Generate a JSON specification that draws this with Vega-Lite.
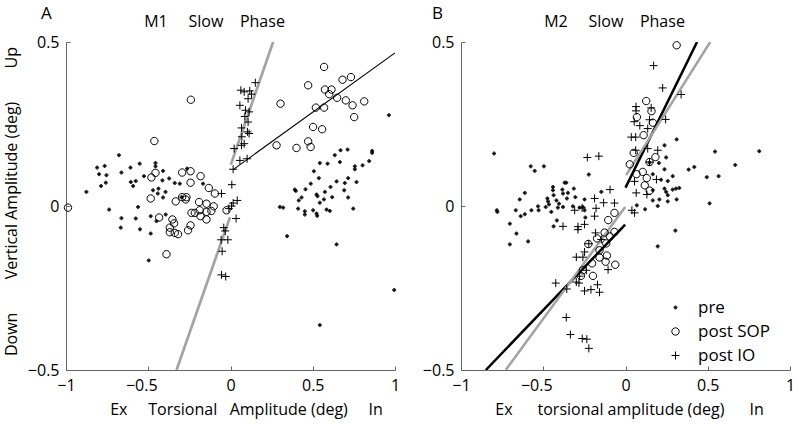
{
"$schema": "https://vega.github.io/schema/vega-lite/v6.json",
"padding": {"left": 3, "top": 5, "right": 5, "bottom": 5},
"datasets": {
"fits": [
{"panel":"A","fit":"post IO","seg":1,"x":0.002,"y":0.126},{"panel":"A","fit":"post IO","seg":1,"x":0.259,"y":0.5},
{"panel":"A","fit":"post IO","seg":2,"x":-0.003,"y":-0.034},{"panel":"A","fit":"post IO","seg":2,"x":-0.328,"y":-0.5},
{"panel":"A","fit":"post SOP","seg":3,"x":0.016,"y":0.111},{"panel":"A","fit":"post SOP","seg":3,"x":1.0,"y":0.467},
{"panel":"B","fit":"post SOP","seg":1,"x":0.0,"y":0.056},{"panel":"B","fit":"post SOP","seg":1,"x":0.435,"y":0.5},
{"panel":"B","fit":"post SOP","seg":2,"x":-0.002,"y":-0.057},{"panel":"B","fit":"post SOP","seg":2,"x":-0.849,"y":-0.5},
{"panel":"B","fit":"post IO","seg":3,"x":0.004,"y":0.094},{"panel":"B","fit":"post IO","seg":3,"x":0.515,"y":0.5},
{"panel":"B","fit":"post IO","seg":4,"x":-0.002,"y":-0.003},{"panel":"B","fit":"post IO","seg":4,"x":-0.728,"y":-0.5}
],
"pts": [
{"panel":"A","type":"pre","x":-0.678,"y":0.155},{"panel":"A","type":"pre","x":-0.811,"y":0.117},{"panel":"A","type":"pre","x":-0.765,"y":0.122},{"panel":"A","type":"pre","x":-0.799,"y":0.097},{"panel":"A","type":"pre","x":-0.754,"y":0.094},{"panel":"A","type":"pre","x":-0.758,"y":0.071},{"panel":"A","type":"pre","x":-0.787,"y":0.061},{"panel":"A","type":"pre","x":-0.876,"y":0.043},{"panel":"A","type":"pre","x":-0.663,"y":0.102},{"panel":"A","type":"pre","x":-0.608,"y":0.117},{"panel":"A","type":"pre","x":-0.552,"y":0.129},{"panel":"A","type":"pre","x":-0.606,"y":0.073},{"panel":"A","type":"pre","x":-0.576,"y":0.076},{"panel":"A","type":"pre","x":-0.592,"y":0.061},{"panel":"A","type":"pre","x":-0.526,"y":0.091},{"panel":"A","type":"pre","x":-0.456,"y":0.131},{"panel":"A","type":"pre","x":-0.456,"y":0.121},{"panel":"A","type":"pre","x":-0.41,"y":0.107},{"panel":"A","type":"pre","x":-0.414,"y":0.078},{"panel":"A","type":"pre","x":-0.373,"y":0.084},{"panel":"A","type":"pre","x":-0.339,"y":0.07},{"panel":"A","type":"pre","x":-0.308,"y":0.068},{"panel":"A","type":"pre","x":-0.471,"y":0.048},{"panel":"A","type":"pre","x":-0.438,"y":0.053},{"panel":"A","type":"pre","x":-0.395,"y":0.043},{"panel":"A","type":"pre","x":-0.442,"y":0.038},{"panel":"A","type":"pre","x":-0.41,"y":0.026},{"panel":"A","type":"pre","x":-0.264,"y":0.114},{"panel":"A","type":"pre","x":-0.167,"y":0.068},{"panel":"A","type":"pre","x":-0.738,"y":-0.011},{"panel":"A","type":"pre","x":-0.562,"y":-0.003},{"panel":"A","type":"pre","x":-0.663,"y":-0.037},{"panel":"A","type":"pre","x":-0.576,"y":-0.038},{"panel":"A","type":"pre","x":-0.485,"y":-0.031},{"panel":"A","type":"pre","x":-0.45,"y":-0.046},{"panel":"A","type":"pre","x":-0.394,"y":-0.026},{"panel":"A","type":"pre","x":-0.667,"y":-0.066},{"panel":"A","type":"pre","x":-0.55,"y":-0.071},{"panel":"A","type":"pre","x":-0.485,"y":-0.084},{"panel":"A","type":"pre","x":-0.497,"y":-0.166},{"panel":"A","type":"pre","x":-0.298,"y":0.027},
{"panel":"A","type":"pre","x":0.634,"y":0.155},{"panel":"A","type":"pre","x":0.669,"y":0.17},{"panel":"A","type":"pre","x":0.712,"y":0.172},{"panel":"A","type":"pre","x":0.861,"y":0.168},{"panel":"A","type":"pre","x":0.861,"y":0.162},{"panel":"A","type":"pre","x":0.543,"y":0.131},{"panel":"A","type":"pre","x":0.59,"y":0.129},{"panel":"A","type":"pre","x":0.665,"y":0.134},{"panel":"A","type":"pre","x":0.756,"y":0.121},{"panel":"A","type":"pre","x":0.756,"y":0.112},{"panel":"A","type":"pre","x":0.803,"y":0.124},{"panel":"A","type":"pre","x":0.843,"y":0.137},{"panel":"A","type":"pre","x":0.507,"y":0.106},{"panel":"A","type":"pre","x":0.537,"y":0.085},{"panel":"A","type":"pre","x":0.645,"y":0.075},{"panel":"A","type":"pre","x":0.695,"y":0.07},{"panel":"A","type":"pre","x":0.715,"y":0.085},{"panel":"A","type":"pre","x":0.766,"y":0.073},{"panel":"A","type":"pre","x":0.488,"y":0.068},{"panel":"A","type":"pre","x":0.608,"y":0.058},{"panel":"A","type":"pre","x":0.574,"y":0.043},{"panel":"A","type":"pre","x":0.523,"y":0.035},{"panel":"A","type":"pre","x":0.529,"y":0.03},{"panel":"A","type":"pre","x":0.456,"y":0.051},{"panel":"A","type":"pre","x":0.391,"y":0.05},{"panel":"A","type":"pre","x":0.397,"y":0.046},{"panel":"A","type":"pre","x":0.691,"y":0.048},{"panel":"A","type":"pre","x":0.618,"y":0.027},{"panel":"A","type":"pre","x":0.568,"y":0.02},{"panel":"A","type":"pre","x":0.543,"y":0.01},{"panel":"A","type":"pre","x":0.432,"y":0.026},{"panel":"A","type":"pre","x":0.415,"y":0.017},{"panel":"A","type":"pre","x":0.715,"y":0.026},{"panel":"A","type":"pre","x":0.3,"y":-0.003},{"panel":"A","type":"pre","x":0.32,"y":-0.005},{"panel":"A","type":"pre","x":0.411,"y":-0.008},{"panel":"A","type":"pre","x":0.452,"y":-0.016},{"panel":"A","type":"pre","x":0.452,"y":-0.026},{"panel":"A","type":"pre","x":0.502,"y":-0.013},{"panel":"A","type":"pre","x":0.523,"y":-0.023},{"panel":"A","type":"pre","x":0.527,"y":-0.03},{"panel":"A","type":"pre","x":0.584,"y":-0.011},{"panel":"A","type":"pre","x":0.604,"y":-0.015},{"panel":"A","type":"pre","x":0.746,"y":-0.008},{"panel":"A","type":"pre","x":0.344,"y":-0.092},{"panel":"A","type":"pre","x":0.645,"y":-0.117},{"panel":"A","type":"pre","x":0.963,"y":0.277},{"panel":"A","type":"pre","x":0.995,"y":-0.256},{"panel":"A","type":"pre","x":0.543,"y":-0.363},
{"panel":"A","type":"post SOP","x":-0.241,"y":0.324},{"panel":"A","type":"post SOP","x":-0.463,"y":0.198},{"panel":"A","type":"post SOP","x":-0.481,"y":0.087},{"panel":"A","type":"post SOP","x":-0.456,"y":0.101},{"panel":"A","type":"post SOP","x":-0.294,"y":0.102},{"panel":"A","type":"post SOP","x":-0.243,"y":0.106},{"panel":"A","type":"post SOP","x":-0.243,"y":0.071},{"panel":"A","type":"post SOP","x":-0.182,"y":0.091},{"panel":"A","type":"post SOP","x":-0.132,"y":0.055},{"panel":"A","type":"post SOP","x":-0.095,"y":0.038},{"panel":"A","type":"post SOP","x":-0.485,"y":0.023},{"panel":"A","type":"post SOP","x":-0.333,"y":0.014},{"panel":"A","type":"post SOP","x":-0.294,"y":0.027},{"panel":"A","type":"post SOP","x":-0.268,"y":0.027},{"panel":"A","type":"post SOP","x":-0.272,"y":0.02},{"panel":"A","type":"post SOP","x":-0.191,"y":0.012},{"panel":"A","type":"post SOP","x":-0.146,"y":0.007},{"panel":"A","type":"post SOP","x":-0.102,"y":-0.001},{"panel":"A","type":"post SOP","x":-0.237,"y":-0.021},{"panel":"A","type":"post SOP","x":-0.217,"y":-0.021},{"panel":"A","type":"post SOP","x":-0.187,"y":-0.013},{"panel":"A","type":"post SOP","x":-0.146,"y":-0.018},{"panel":"A","type":"post SOP","x":-0.116,"y":-0.015},{"panel":"A","type":"post SOP","x":-0.182,"y":-0.031},{"panel":"A","type":"post SOP","x":-0.146,"y":-0.041},{"panel":"A","type":"post SOP","x":-0.434,"y":-0.035},{"panel":"A","type":"post SOP","x":-0.353,"y":-0.041},{"panel":"A","type":"post SOP","x":-0.343,"y":-0.053},{"panel":"A","type":"post SOP","x":-0.369,"y":-0.066},{"panel":"A","type":"post SOP","x":-0.369,"y":-0.08},{"panel":"A","type":"post SOP","x":-0.339,"y":-0.082},{"panel":"A","type":"post SOP","x":-0.319,"y":-0.086},{"panel":"A","type":"post SOP","x":-0.243,"y":-0.059},{"panel":"A","type":"post SOP","x":-0.258,"y":-0.074},{"panel":"A","type":"post SOP","x":-0.389,"y":-0.147},{"panel":"A","type":"post SOP","x":-0.988,"y":-0.005},{"panel":"A","type":"post SOP","x":-0.024,"y":-0.013},
{"panel":"A","type":"post SOP","x":0.569,"y":0.424},{"panel":"A","type":"post SOP","x":0.681,"y":0.385},{"panel":"A","type":"post SOP","x":0.732,"y":0.393},{"panel":"A","type":"post SOP","x":0.472,"y":0.368},{"panel":"A","type":"post SOP","x":0.574,"y":0.355},{"panel":"A","type":"post SOP","x":0.614,"y":0.355},{"panel":"A","type":"post SOP","x":0.6,"y":0.341},{"panel":"A","type":"post SOP","x":0.648,"y":0.33},{"panel":"A","type":"post SOP","x":0.701,"y":0.322},{"panel":"A","type":"post SOP","x":0.813,"y":0.319},{"panel":"A","type":"post SOP","x":0.742,"y":0.307},{"panel":"A","type":"post SOP","x":0.304,"y":0.312},{"panel":"A","type":"post SOP","x":0.519,"y":0.3},{"panel":"A","type":"post SOP","x":0.569,"y":0.3},{"panel":"A","type":"post SOP","x":0.752,"y":0.271},{"panel":"A","type":"post SOP","x":0.502,"y":0.241},{"panel":"A","type":"post SOP","x":0.557,"y":0.234},{"panel":"A","type":"post SOP","x":0.472,"y":0.197},{"panel":"A","type":"post SOP","x":0.487,"y":0.18},{"panel":"A","type":"post SOP","x":0.401,"y":0.177},{"panel":"A","type":"post SOP","x":0.28,"y":0.185},
{"panel":"A","type":"post IO","x":0.151,"y":0.376},{"panel":"A","type":"post IO","x":0.063,"y":0.353},{"panel":"A","type":"post IO","x":0.083,"y":0.348},{"panel":"A","type":"post IO","x":0.117,"y":0.351},{"panel":"A","type":"post IO","x":0.128,"y":0.341},{"panel":"A","type":"post IO","x":0.107,"y":0.327},{"panel":"A","type":"post IO","x":0.057,"y":0.307},{"panel":"A","type":"post IO","x":0.091,"y":0.292},{"panel":"A","type":"post IO","x":0.113,"y":0.287},{"panel":"A","type":"post IO","x":0.087,"y":0.273},{"panel":"A","type":"post IO","x":0.107,"y":0.256},{"panel":"A","type":"post IO","x":0.067,"y":0.238},{"panel":"A","type":"post IO","x":0.103,"y":0.226},{"panel":"A","type":"post IO","x":0.113,"y":0.221},{"panel":"A","type":"post IO","x":0.069,"y":0.211},{"panel":"A","type":"post IO","x":0.067,"y":0.185},{"panel":"A","type":"post IO","x":0.083,"y":0.19},{"panel":"A","type":"post IO","x":0.022,"y":0.175},{"panel":"A","type":"post IO","x":0.057,"y":0.139},{"panel":"A","type":"post IO","x":0.101,"y":0.144},{"panel":"A","type":"post IO","x":0.016,"y":0.112},{"panel":"A","type":"post IO","x":0.008,"y":0.065},{"panel":"A","type":"post IO","x":-0.055,"y":0.038},{"panel":"A","type":"post IO","x":0.041,"y":0.017},{"panel":"A","type":"post IO","x":0.016,"y":0.009},{"panel":"A","type":"post IO","x":0.006,"y":0.0},{"panel":"A","type":"post IO","x":-0.01,"y":-0.008},{"panel":"A","type":"post IO","x":0.034,"y":-0.038},{"panel":"A","type":"post IO","x":-0.041,"y":-0.066},{"panel":"A","type":"post IO","x":-0.032,"y":-0.076},{"panel":"A","type":"post IO","x":-0.016,"y":-0.103},{"panel":"A","type":"post IO","x":-0.057,"y":-0.103},{"panel":"A","type":"post IO","x":-0.051,"y":-0.138},{"panel":"A","type":"post IO","x":-0.055,"y":-0.21},{"panel":"A","type":"post IO","x":-0.029,"y":-0.215},
{"panel":"B","type":"pre","x":-0.799,"y":0.16},{"panel":"B","type":"pre","x":-0.576,"y":0.121},{"panel":"B","type":"pre","x":-0.552,"y":0.107},{"panel":"B","type":"pre","x":-0.496,"y":0.121},{"panel":"B","type":"pre","x":-0.223,"y":0.096},{"panel":"B","type":"pre","x":-0.612,"y":0.04},{"panel":"B","type":"pre","x":-0.643,"y":0.02},{"panel":"B","type":"pre","x":-0.782,"y":-0.013},{"panel":"B","type":"pre","x":-0.779,"y":-0.018},{"panel":"B","type":"pre","x":-0.667,"y":-0.013},{"panel":"B","type":"pre","x":-0.637,"y":-0.031},{"panel":"B","type":"pre","x":-0.612,"y":-0.025},{"panel":"B","type":"pre","x":-0.572,"y":-0.013},{"panel":"B","type":"pre","x":-0.532,"y":-0.001},{"panel":"B","type":"pre","x":-0.528,"y":-0.013},{"panel":"B","type":"pre","x":-0.485,"y":-0.003},{"panel":"B","type":"pre","x":-0.475,"y":0.023},{"panel":"B","type":"pre","x":-0.471,"y":0.014},{"panel":"B","type":"pre","x":-0.465,"y":0.005},{"panel":"B","type":"pre","x":-0.441,"y":0.058},{"panel":"B","type":"pre","x":-0.441,"y":0.048},{"panel":"B","type":"pre","x":-0.437,"y":0.033},{"panel":"B","type":"pre","x":-0.451,"y":-0.018},{"panel":"B","type":"pre","x":-0.42,"y":0.017},{"panel":"B","type":"pre","x":-0.404,"y":0.007},{"panel":"B","type":"pre","x":-0.411,"y":-0.005},{"panel":"B","type":"pre","x":-0.384,"y":0.05},{"panel":"B","type":"pre","x":-0.38,"y":0.038},{"panel":"B","type":"pre","x":-0.37,"y":0.071},{"panel":"B","type":"pre","x":-0.36,"y":0.071},{"panel":"B","type":"pre","x":-0.35,"y":0.04},{"panel":"B","type":"pre","x":-0.356,"y":0.023},{"panel":"B","type":"pre","x":-0.38,"y":-0.003},{"panel":"B","type":"pre","x":-0.314,"y":0.053},{"panel":"B","type":"pre","x":-0.305,"y":0.027},{"panel":"B","type":"pre","x":-0.32,"y":-0.001},{"panel":"B","type":"pre","x":-0.279,"y":-0.005},{"panel":"B","type":"pre","x":-0.259,"y":-0.003},{"panel":"B","type":"pre","x":-0.249,"y":0.02},{"panel":"B","type":"pre","x":-0.244,"y":-0.035},{"panel":"B","type":"pre","x":-0.147,"y":0.043},{"panel":"B","type":"pre","x":-0.703,"y":-0.054},{"panel":"B","type":"pre","x":-0.417,"y":-0.044},{"panel":"B","type":"pre","x":-0.437,"y":-0.062},{"panel":"B","type":"pre","x":-0.663,"y":-0.084},{"panel":"B","type":"pre","x":-0.703,"y":-0.117},{"panel":"B","type":"pre","x":-0.592,"y":-0.108},{"panel":"B","type":"pre","x":-0.249,"y":-0.013},{"panel":"B","type":"pre","x":0.303,"y":-0.075},{"panel":"B","type":"pre","x":0.196,"y":-0.123},
{"panel":"B","type":"pre","x":0.311,"y":0.203},{"panel":"B","type":"pre","x":0.237,"y":0.185},{"panel":"B","type":"pre","x":0.544,"y":0.166},{"panel":"B","type":"pre","x":0.813,"y":0.167},{"panel":"B","type":"pre","x":0.667,"y":0.125},{"panel":"B","type":"pre","x":0.384,"y":0.111},{"panel":"B","type":"pre","x":0.418,"y":0.119},{"panel":"B","type":"pre","x":0.494,"y":0.088},{"panel":"B","type":"pre","x":0.566,"y":0.091},{"panel":"B","type":"pre","x":0.511,"y":0.008},{"panel":"B","type":"pre","x":0.247,"y":0.148},{"panel":"B","type":"pre","x":0.203,"y":0.131},{"panel":"B","type":"pre","x":0.237,"y":0.112},{"panel":"B","type":"pre","x":0.166,"y":0.097},{"panel":"B","type":"pre","x":0.216,"y":0.08},{"panel":"B","type":"pre","x":0.257,"y":0.076},{"panel":"B","type":"pre","x":0.287,"y":0.091},{"panel":"B","type":"pre","x":0.237,"y":0.053},{"panel":"B","type":"pre","x":0.247,"y":0.043},{"panel":"B","type":"pre","x":0.257,"y":0.033},{"panel":"B","type":"pre","x":0.287,"y":0.05},{"panel":"B","type":"pre","x":0.307,"y":0.053},{"panel":"B","type":"pre","x":0.327,"y":0.055},{"panel":"B","type":"pre","x":0.311,"y":0.02},{"panel":"B","type":"pre","x":0.257,"y":0.014},{"panel":"B","type":"pre","x":0.206,"y":0.02},{"panel":"B","type":"pre","x":0.166,"y":0.017},{"panel":"B","type":"pre","x":0.196,"y":0.0},{"panel":"B","type":"pre","x":0.119,"y":-0.01},{"panel":"B","type":"pre","x":0.069,"y":0.002},{"panel":"B","type":"pre","x":0.146,"y":0.132},{"panel":"B","type":"pre","x":0.166,"y":0.048},
{"panel":"B","type":"post SOP","x":0.311,"y":0.49},{"panel":"B","type":"post SOP","x":0.126,"y":0.32},{"panel":"B","type":"post SOP","x":0.158,"y":0.289},{"panel":"B","type":"post SOP","x":0.069,"y":0.271},{"panel":"B","type":"post SOP","x":0.166,"y":0.254},{"panel":"B","type":"post SOP","x":0.11,"y":0.216},{"panel":"B","type":"post SOP","x":0.05,"y":0.162},{"panel":"B","type":"post SOP","x":0.182,"y":0.149},{"panel":"B","type":"post SOP","x":0.026,"y":0.127},{"panel":"B","type":"post SOP","x":0.146,"y":0.134},{"panel":"B","type":"post SOP","x":0.105,"y":0.104},{"panel":"B","type":"post SOP","x":0.067,"y":0.097},{"panel":"B","type":"post SOP","x":0.129,"y":0.085},{"panel":"B","type":"post SOP","x":0.117,"y":0.063},{"panel":"B","type":"post SOP","x":0.147,"y":0.047},{"panel":"B","type":"post SOP","x":-0.067,"y":-0.021},{"panel":"B","type":"post SOP","x":-0.105,"y":-0.043},{"panel":"B","type":"post SOP","x":-0.127,"y":-0.081},{"panel":"B","type":"post SOP","x":-0.067,"y":-0.079},{"panel":"B","type":"post SOP","x":-0.095,"y":-0.093},{"panel":"B","type":"post SOP","x":-0.173,"y":-0.099},{"panel":"B","type":"post SOP","x":-0.226,"y":-0.116},{"panel":"B","type":"post SOP","x":-0.117,"y":-0.114},{"panel":"B","type":"post SOP","x":-0.158,"y":-0.135},{"panel":"B","type":"post SOP","x":-0.113,"y":-0.151},{"panel":"B","type":"post SOP","x":-0.158,"y":-0.157},{"panel":"B","type":"post SOP","x":-0.203,"y":-0.175},{"panel":"B","type":"post SOP","x":-0.121,"y":-0.17},{"panel":"B","type":"post SOP","x":-0.062,"y":-0.179},{"panel":"B","type":"post SOP","x":-0.271,"y":-0.213},{"panel":"B","type":"post SOP","x":-0.198,"y":-0.213},{"panel":"B","type":"post SOP","x":-0.259,"y":-0.196},
{"panel":"B","type":"post IO","x":0.171,"y":0.428},{"panel":"B","type":"post IO","x":0.226,"y":0.36},{"panel":"B","type":"post IO","x":0.338,"y":0.34},{"panel":"B","type":"post IO","x":0.064,"y":0.303},{"panel":"B","type":"post IO","x":0.064,"y":0.29},{"panel":"B","type":"post IO","x":0.156,"y":0.299},{"panel":"B","type":"post IO","x":0.053,"y":0.257},{"panel":"B","type":"post IO","x":0.087,"y":0.245},{"panel":"B","type":"post IO","x":0.135,"y":0.236},{"panel":"B","type":"post IO","x":0.146,"y":0.263},{"panel":"B","type":"post IO","x":0.244,"y":0.264},{"panel":"B","type":"post IO","x":0.035,"y":0.21},{"panel":"B","type":"post IO","x":0.062,"y":0.21},{"panel":"B","type":"post IO","x":0.135,"y":0.175},{"panel":"B","type":"post IO","x":0.196,"y":0.17},{"panel":"B","type":"post IO","x":0.062,"y":0.17},{"panel":"B","type":"post IO","x":0.146,"y":0.134},{"panel":"B","type":"post IO","x":0.055,"y":0.075},{"panel":"B","type":"post IO","x":0.188,"y":0.081},{"panel":"B","type":"post IO","x":0.065,"y":0.04},{"panel":"B","type":"post IO","x":0.13,"y":0.035},{"panel":"B","type":"post IO","x":-0.094,"y":0.05},{"panel":"B","type":"post IO","x":-0.232,"y":0.148},{"panel":"B","type":"post IO","x":-0.162,"y":0.152},{"panel":"B","type":"post IO","x":-0.188,"y":0.023},{"panel":"B","type":"post IO","x":-0.133,"y":0.01},{"panel":"B","type":"post IO","x":-0.067,"y":0.009},{"panel":"B","type":"post IO","x":-0.179,"y":-0.007},{"panel":"B","type":"post IO","x":0.039,"y":-0.013},{"panel":"B","type":"post IO","x":0.055,"y":-0.021},{"panel":"B","type":"post IO","x":-0.309,"y":-0.013},{"panel":"B","type":"post IO","x":-0.264,"y":-0.006},{"panel":"B","type":"post IO","x":-0.188,"y":-0.031},{"panel":"B","type":"post IO","x":-0.249,"y":-0.056},{"panel":"B","type":"post IO","x":-0.289,"y":-0.063},{"panel":"B","type":"post IO","x":-0.289,"y":-0.072},{"panel":"B","type":"post IO","x":-0.38,"y":-0.062},{"panel":"B","type":"post IO","x":-0.182,"y":-0.082},{"panel":"B","type":"post IO","x":-0.147,"y":-0.102},{"panel":"B","type":"post IO","x":-0.223,"y":-0.115},{"panel":"B","type":"post IO","x":-0.249,"y":-0.14},{"panel":"B","type":"post IO","x":-0.299,"y":-0.156},{"panel":"B","type":"post IO","x":-0.259,"y":-0.156},{"panel":"B","type":"post IO","x":-0.106,"y":-0.194},{"panel":"B","type":"post IO","x":-0.238,"y":-0.196},{"panel":"B","type":"post IO","x":-0.299,"y":-0.232},{"panel":"B","type":"post IO","x":-0.424,"y":-0.235},{"panel":"B","type":"post IO","x":-0.357,"y":-0.253},{"panel":"B","type":"post IO","x":-0.283,"y":-0.235},{"panel":"B","type":"post IO","x":-0.249,"y":-0.259},{"panel":"B","type":"post IO","x":-0.21,"y":-0.255},{"panel":"B","type":"post IO","x":-0.17,"y":-0.24},{"panel":"B","type":"post IO","x":-0.158,"y":-0.263},{"panel":"B","type":"post IO","x":-0.36,"y":-0.34},{"panel":"B","type":"post IO","x":-0.335,"y":-0.392},{"panel":"B","type":"post IO","x":-0.263,"y":-0.404},{"panel":"B","type":"post IO","x":-0.235,"y":-0.406},{"panel":"B","type":"post IO","x":-0.223,"y":-0.434},{"panel":"B","type":"post IO","x":-0.279,"y":-0.214}
]
},
"hconcat": [
{
"width": 329, "height": 328,
"title": {"text": "A", "anchor": "start", "frame": "group", "dx": -25, "offset": -10},
"resolve": {"axis": {"x": "independent", "y": "independent"}},
"layer": [
{"data": {"name": "fits"}, "transform": [{"filter": "datum.panel == 'A'"}],
 "mark": {"type": "line", "clip": true},
 "encoding": {
  "x": {"field": "x", "type": "quantitative", "scale": {"domain": [-1, 1], "nice": false},
        "axis": {"values": [-1, -0.5, 0, 0.5, 1], "format": "~g", "labelFlush": false, "labelOffset": {"condition": {"test": "datum.value < 0 && datum.value > -1", "value": -7}, "value": 0}, "title": "Ex\u00a0\u00a0\u00a0\u00a0 Torsional\u00a0\u00a0 Amplitude (deg)\u00a0\u00a0\u00a0\u00a0 In", "titleX": 180}},
  "y": {"field": "y", "type": "quantitative", "scale": {"domain": [-0.5, 0.5], "nice": false},
        "axis": {"values": [-0.5, 0, 0.5], "format": "~g", "labelFlush": false, "titleY": 159, "title": "Down\u00a0\u00a0\u00a0\u00a0\u00a0\u00a0\u00a0 Vertical Amplitude (deg)\u00a0\u00a0\u00a0\u00a0\u00a0\u00a0\u00a0 Up"}},
  "detail": {"field": "seg", "type": "nominal"},
  "color": {"field": "fit", "type": "nominal", "scale": {"domain": ["post SOP", "post IO"], "range": ["#000000", "#a3a3a3"]}, "legend": null},
  "strokeWidth": {"field": "fit", "type": "nominal", "scale": {"domain": ["post SOP", "post IO"], "range": [1.1, 2.7]}, "legend": null}
 }},
{"data": {"name": "pts"}, "transform": [{"filter": "datum.panel == 'A'"}],
 "mark": {"type": "point", "filled": false, "stroke": "black", "strokeWidth": 1, "size": 64, "opacity": 1},
 "encoding": {
  "x": {"field": "x", "type": "quantitative", "axis": {"orient": "top", "labels": false, "ticks": false, "domain": false, "title": "M1\u00a0\u00a0\u00a0\u00a0 Slow\u00a0\u00a0\u00a0 Phase", "titleX": 148, "titleY": -16, "titleBaseline": "alphabetic"}},
  "y": {"field": "y", "type": "quantitative", "axis": null},
  "shape": {"field": "type", "type": "nominal", "scale": {"domain": ["pre", "post SOP", "post IO"], "range": ["M-0.38,0A0.38,0.38 0 1,0 0.38,0A0.38,0.38 0 1,0 -0.38,0ZM-0.14,0A0.14,0.14 0 1,0 0.14,0A0.14,0.14 0 1,0 -0.14,0ZM-0.3,0H0.3M0,-0.3V0.3", "M-0.92,0A0.92,0.92 0 1,0 0.92,0A0.92,0.92 0 1,0 -0.92,0Z", "M-1,0H1M0,-1V1"]}, "legend": null}
 }}
]
},
{
"width": 329, "height": 328,
"title": {"text": "B", "anchor": "start", "frame": "group", "dx": -29, "offset": -10},
"resolve": {"axis": {"x": "independent", "y": "independent"}},
"layer": [
{"data": {"name": "fits"}, "transform": [{"filter": "datum.panel == 'B'"}],
 "mark": {"type": "line", "clip": true, "strokeWidth": 2.5},
 "encoding": {
  "x": {"field": "x", "type": "quantitative", "scale": {"domain": [-1, 1], "nice": false},
        "axis": {"values": [-1, -0.5, 0, 0.5, 1], "format": "~g", "labelFlush": false, "labelOffset": {"condition": {"test": "datum.value < 0 && datum.value > -1", "value": -7}, "value": 0}, "title": "Ex\u00a0\u00a0\u00a0\u00a0\u00a0 torsional amplitude (deg)\u00a0\u00a0\u00a0\u00a0\u00a0 In", "titleX": 168}},
  "y": {"field": "y", "type": "quantitative", "scale": {"domain": [-0.5, 0.5], "nice": false},
        "axis": {"values": [-0.5, 0, 0.5], "format": "~g", "labelFlush": false, "title": null}},
  "detail": {"field": "seg", "type": "nominal"},
  "color": {"field": "fit", "type": "nominal", "scale": {"domain": ["post SOP", "post IO"], "range": ["#000000", "#a3a3a3"]}, "legend": null}
 }},
{"data": {"name": "pts"}, "transform": [{"filter": "datum.panel == 'B'"}],
 "mark": {"type": "point", "filled": false, "stroke": "black", "strokeWidth": 1, "size": 64, "opacity": 1},
 "encoding": {
  "x": {"field": "x", "type": "quantitative", "axis": {"orient": "top", "labels": false, "ticks": false, "domain": false, "title": "M2\u00a0\u00a0\u00a0\u00a0 Slow\u00a0\u00a0\u00a0 Phase", "titleX": 153, "titleY": -16, "titleBaseline": "alphabetic"}},
  "y": {"field": "y", "type": "quantitative", "axis": null},
  "shape": {"field": "type", "type": "nominal", "scale": {"domain": ["pre", "post SOP", "post IO"], "range": ["M-0.38,0A0.38,0.38 0 1,0 0.38,0A0.38,0.38 0 1,0 -0.38,0ZM-0.14,0A0.14,0.14 0 1,0 0.14,0A0.14,0.14 0 1,0 -0.14,0ZM-0.3,0H0.3M0,-0.3V0.3", "M-0.92,0A0.92,0.92 0 1,0 0.92,0A0.92,0.92 0 1,0 -0.92,0Z", "M-1,0H1M0,-1V1"]}, "legend": {"orient": "none", "legendX": 206, "legendY": 257, "title": null, "symbolSize": 64, "symbolStrokeColor": "#000000", "symbolStrokeWidth": 1, "symbolFillColor": "transparent"}}
 }}
]
}
],
"spacing": 66,
"bounds": "flush",
"resolve": {"scale": {"shape": "independent", "color": "independent", "strokeWidth": "independent"}, "legend": {"shape": "independent"}},
"config": {
 "view": {"stroke": null},
 "font": "Open Sans",
 "axis": {"grid": false, "domainColor": "#666666", "tickColor": "#666666", "tickSize": -4, "labelFont": "Open Sans", "labelFontSize": 16, "labelColor": "#000000", "labelPadding": 11, "titleFont": "Open Sans", "titleFontSize": 16, "titleFontWeight": "normal", "titleColor": "#000000", "titlePadding": 8},
 "title": {"font": "Open Sans", "fontSize": 17, "fontWeight": "normal", "color": "#000000"},
 "legend": {"padding": 0, "labelFont": "Open Sans", "labelFontSize": 17, "labelColor": "#000000", "rowPadding": 6, "labelOffset": 14}
}
}
